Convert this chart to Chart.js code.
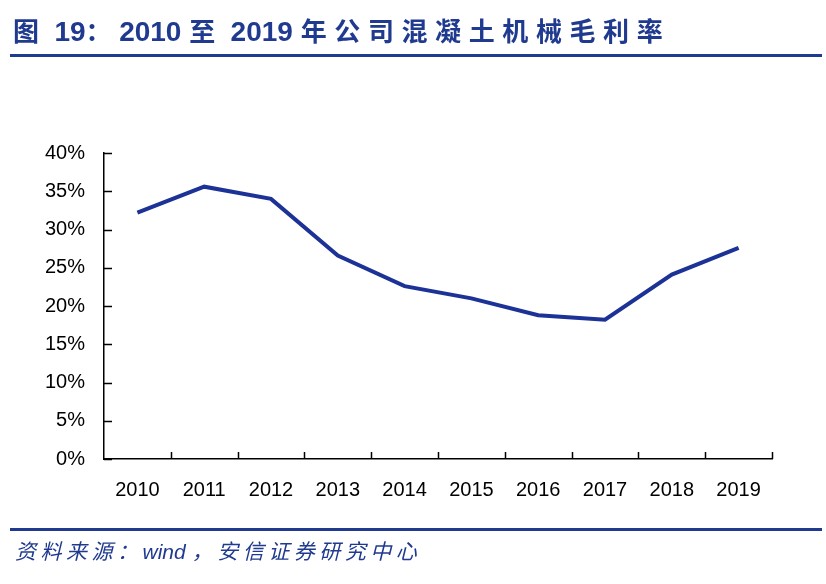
<!DOCTYPE html>
<html>
<head>
<meta charset="utf-8">
<script src="https://cdn.jsdelivr.net/npm/chart.js@4.4.1/dist/chart.umd.min.js"></script>
<style>
    html, body { margin: 0; padding: 0; background: #fff; }
    #wrap { position: relative; width: 826px; height: 584px; overflow: hidden; }
    #title {
        position: absolute; left: 13px; top: 11px;
        font: bold 28px "Liberation Sans", "Noto Sans CJK SC", sans-serif;
        color: #1f3a8f; white-space: nowrap;
    }
    #title .cj { font-size: 26px; letter-spacing: 7.6px; }
    .rule { position: absolute; left: 10px; width: 812px; height: 3px; background: #1f3a8f; }
    #source {
        position: absolute; left: 15px; top: 535px;
        font: italic 21px "Liberation Sans", "Noto Sans CJK SC", sans-serif;
        color: #1f3a8f; white-space: nowrap;
    }
    #source .cj { letter-spacing: 4.5px; }
    #chart { position: absolute; left: 0; top: 0; }
</style>
</head>
<body>
<div id="wrap">
    <canvas id="chart" width="826" height="584"></canvas>
    <div id="title"><span class="cj">图</span> 19<span class="cj">：</span>2010 <span class="cj">至</span> 2019 <span class="cj">年公司混凝土机械毛利率</span></div>
    <div class="rule" style="top: 54px;"></div>
    <div class="rule" style="top: 528px;"></div>
    <div id="source"><span class="cj">资料来源：</span>wind<span class="cj" style="margin-left: 6px;">，安信证券研究中心</span></div>
</div>
<script>
const years = ["2010", "2011", "2012", "2013", "2014", "2015", "2016", "2017", "2018", "2019"];
const grossMargin = [0.322, 0.356, 0.340, 0.266, 0.226, 0.210, 0.188, 0.182, 0.241, 0.276];
const yTicks = [0, 0.05, 0.10, 0.15, 0.20, 0.25, 0.30, 0.35, 0.40];

// tick marks in the reference point into the plot, so draw them ourselves
const innerTicks = {
    id: "innerTicks",
    afterDraw(chart) {
        const ctx = chart.ctx;
        const x = chart.scales.x;
        const y = chart.scales.y;
        ctx.save();
        ctx.strokeStyle = "#000";
        ctx.lineWidth = 1.5;
        ctx.beginPath();
        yTicks.forEach(v => {
            const py = Math.round(y.getPixelForValue(v)) + 0.5;
            ctx.moveTo(x.left, py);
            ctx.lineTo(x.left + 8, py);
        });
        const step = x.width / years.length;
        for (let i = 1; i <= years.length; i++) {
            const px = Math.round(x.left + i * step) + 0.5;
            ctx.moveTo(px, y.bottom);
            ctx.lineTo(px, y.bottom - 7);
        }
        ctx.stroke();
        ctx.restore();
    }
};

new Chart(document.getElementById("chart").getContext("2d"), {
    type: "line",
    data: {
        labels: years,
        datasets: [{
            data: grossMargin,
            borderColor: "#1c3296",
            borderWidth: 4,
            pointRadius: 0,
            tension: 0,
            fill: false
        }]
    },
    options: {
        responsive: false,
        animation: false,
        layout: { padding: { left: 0, top: 153, right: 54, bottom: 0 } },
        plugins: { legend: { display: false }, tooltip: { enabled: false } },
        scales: {
            x: {
                type: "category",
                offset: true,
                grid: { display: false, drawTicks: false },
                border: { display: true, color: "#000", width: 1.5 },
                ticks: { color: "#000", font: { family: "Liberation Sans", size: 20 }, padding: 19, maxRotation: 0, autoSkip: false },
                afterFit: s => { s.height = 125; }
            },
            y: {
                min: 0,
                max: 0.4,
                grid: { display: false, drawTicks: false },
                border: { display: true, color: "#000", width: 1.5 },
                ticks: {
                    stepSize: 0.05,
                    color: "#000",
                    padding: 19,
                    font: { family: "Liberation Sans", size: 20 },
                    callback: v => Math.round(v * 100) + "%"
                },
                afterFit: s => { s.width = 104; }
            }
        }
    },
    plugins: [innerTicks]
});
</script>
</body>
</html>
